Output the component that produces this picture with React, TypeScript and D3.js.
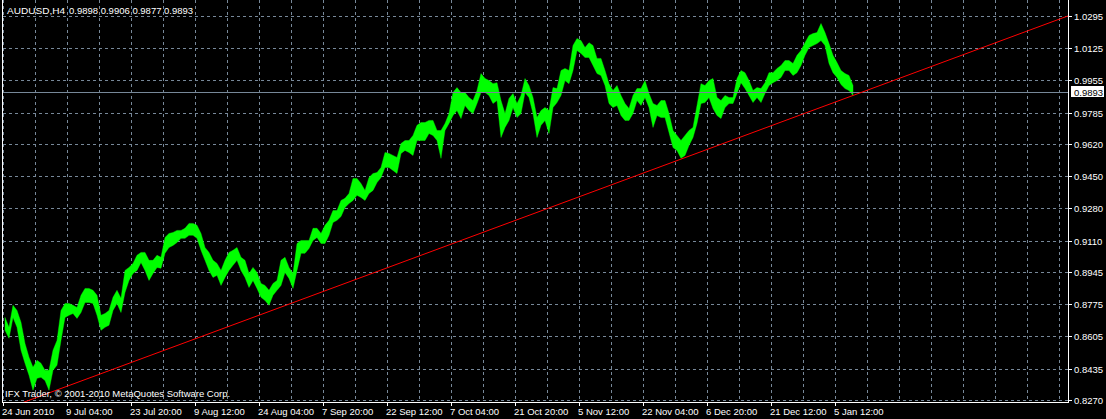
import React from 'react';
import * as d3 from 'd3';

const SYMBOL = 'AUDUSD,H4';
const LAST_OHLC = ['0.9898', '0.9906', '0.9877', '0.9893'];
const BID = 0.9893;
const COPYRIGHT = 'IFX Trader, © 2001-2010 MetaQuotes Software Corp.';

const PRICE_TICKS = [1.0295, 1.0125, 0.9955, 0.9785, 0.962, 0.945, 0.928, 0.911, 0.8945, 0.8775, 0.8605, 0.8435, 0.827];
const TIME_LABELS = ['24 Jun 2010', '9 Jul 04:00', '23 Jul 20:00', '9 Aug 12:00', '24 Aug 04:00', '7 Sep 20:00', '22 Sep 12:00', '7 Oct 04:00', '21 Oct 20:00', '5 Nov 12:00', '22 Nov 04:00', '6 Dec 20:00', '21 Dec 12:00', '5 Jan 12:00'];
const TIME_LABEL_BARS = [0, 64, 128, 192, 256, 320, 384, 448, 512, 576, 640, 704, 768, 832];
const GRID_BARS = d3.range(0, 1057, 32);
const VISIBLE_BARS = 1065;
const BARS_PER_SAMPLE = 4;

// high / low of each group of four H4 bars
const HIGHS = [
  0.8708, 0.8656, 0.8772, 0.8745, 0.8682, 0.8571, 0.8498, 0.8445, 0.8482, 0.8466,
  0.8429, 0.8429, 0.8535, 0.8587, 0.8745, 0.8782, 0.8782, 0.8772, 0.8761, 0.8825,
  0.8861, 0.8861, 0.8851, 0.8825, 0.8719, 0.8729, 0.8745, 0.8814, 0.8851, 0.8809,
  0.8956, 0.8972, 0.8993, 0.9036, 0.9051, 0.9051, 0.9009, 0.9009, 0.9036, 0.9025,
  0.913, 0.9151, 0.9156, 0.9167, 0.9167, 0.9178, 0.9204, 0.9204, 0.9194, 0.9151,
  0.9077, 0.9051, 0.9009, 0.8993, 0.8956, 0.9009, 0.9051, 0.9062, 0.9077, 0.9025,
  0.9009, 0.894, 0.8972, 0.8945, 0.8887, 0.8877, 0.8851, 0.8887, 0.8903, 0.9009,
  0.9025, 0.8972, 0.894, 0.9098, 0.9114, 0.9114, 0.9114, 0.9178, 0.9178, 0.9151,
  0.9194, 0.922, 0.9272, 0.9272, 0.9325, 0.9336, 0.9362, 0.9441, 0.9441, 0.9414,
  0.9378, 0.9446, 0.9467, 0.9472, 0.9499, 0.9578, 0.9573, 0.9562, 0.9552, 0.9625,
  0.9641, 0.9641, 0.9668, 0.9721, 0.9736, 0.9736, 0.9747, 0.9747, 0.9694, 0.9694,
  0.9731, 0.9783, 0.9894, 0.992, 0.9894, 0.9894, 0.9868, 0.9852, 0.9905, 0.9994,
  0.9968, 0.9957, 0.9941, 0.9946, 0.9852, 0.9783, 0.9863, 0.9889, 0.9836, 0.9879,
  0.9968, 0.9931, 0.9868, 0.9762, 0.9799, 0.9815, 0.9799, 0.992, 0.9915, 1.001,
  1.0021, 1.001, 1.0142, 1.0179, 1.0168, 1.0131, 1.0157, 1.0142, 1.0074, 1.0074,
  1.001, 0.9941, 0.9905, 0.9931, 0.9879, 0.9836, 0.981, 0.9879, 0.9915, 0.9915,
  0.9957, 0.9889, 0.9836, 0.9826, 0.9852, 0.9852, 0.9783, 0.9694, 0.9668, 0.9641,
  0.9668, 0.9694, 0.971, 0.9826, 0.9941, 0.9931, 0.9957, 0.9968, 0.9868, 0.9852,
  0.9879, 0.9868, 0.9868, 0.9968, 1.001, 0.9999, 0.9957, 0.9905, 0.992, 0.9915,
  0.9946, 0.9999, 0.9999, 1.0021, 1.0037, 1.0063, 1.0063, 1.0047, 1.009, 1.0116,
  1.0157, 1.0195, 1.0205, 1.021, 1.0258, 1.021, 1.0152, 1.009, 1.0052, 1.001,
  0.9994, 0.9984, 0.9931,
];
const LOWS = [
  0.864, 0.8598, 0.8708, 0.8656, 0.8535, 0.8466, 0.8403, 0.8324, 0.8387, 0.8392,
  0.8376, 0.8324, 0.8429, 0.8456, 0.8587, 0.8708, 0.8719, 0.8729, 0.8703, 0.8734,
  0.8787, 0.8787, 0.8782, 0.8719, 0.864, 0.8656, 0.8667, 0.8745, 0.8782, 0.8734,
  0.884, 0.8903, 0.894, 0.8956, 0.8998, 0.8956, 0.8903, 0.894, 0.8972, 0.8967,
  0.9046, 0.9077, 0.9088, 0.9103, 0.9125, 0.9125, 0.9141, 0.9141, 0.9125, 0.9062,
  0.9009, 0.8956, 0.8919, 0.893, 0.8877, 0.8919, 0.8956, 0.8983, 0.9009, 0.8956,
  0.8919, 0.8866, 0.8903, 0.8861, 0.8814, 0.8798, 0.8772, 0.8825, 0.8851, 0.8877,
  0.8945, 0.8914, 0.8861, 0.8956, 0.9046, 0.9046, 0.9072, 0.9114, 0.913, 0.9098,
  0.9098, 0.9141, 0.9209, 0.922, 0.924, 0.9288, 0.9309, 0.9325, 0.9352, 0.9341,
  0.9325, 0.9362, 0.9378, 0.9419, 0.9446, 0.9499, 0.9499, 0.9483, 0.9467, 0.9573,
  0.9589, 0.9578, 0.9562, 0.9641, 0.9641, 0.9641, 0.9678, 0.9668, 0.9641, 0.9547,
  0.9694, 0.9731, 0.9773, 0.9799, 0.9757, 0.9826, 0.9799, 0.9783, 0.9836, 0.9894,
  0.9894, 0.9879, 0.9836, 0.9852, 0.9657, 0.971, 0.9747, 0.9815, 0.9762, 0.9783,
  0.9894, 0.9868, 0.9783, 0.9657, 0.9721, 0.9747, 0.9678, 0.9815, 0.9841, 0.9879,
  0.9957, 0.9941, 1.001, 1.0116, 1.01, 1.0079, 1.0079, 1.0037, 0.9994, 0.9984,
  0.9931, 0.9836, 0.9815, 0.9826, 0.9773, 0.9747, 0.9747, 0.9783, 0.9852, 0.9826,
  0.9868, 0.9815, 0.971, 0.9773, 0.9762, 0.9762, 0.9683, 0.9604, 0.9589, 0.9547,
  0.9562, 0.9615, 0.9657, 0.9731, 0.9836, 0.9841, 0.9868, 0.981, 0.9773, 0.9757,
  0.9815, 0.9836, 0.9836, 0.9889, 0.9946, 0.9915, 0.9879, 0.9841, 0.9868, 0.9841,
  0.9889, 0.9931, 0.9946, 0.9957, 0.9973, 1.001, 1.001, 0.9984, 0.9999, 1.0037,
  1.009, 1.0131, 1.0142, 1.0152, 1.0168, 1.0142, 1.0047, 0.9999, 0.9973, 0.9936,
  0.9915, 0.9905, 0.9879,
];

// trend line anchors (bar index, price)
const TREND_BARS = [46, 677];
const TREND_PRICES = [0.8311, 0.9542];

const W = 1106;
const H = 419;
const PLOT_LEFT = 2;
const PLOT_RIGHT = 1068;
const PLOT_BOTTOM = 402;
const FONT = '"Liberation Sans", Arial, sans-serif';
const GRID = '#778899';

export default function App() {
  const x = d3.scaleLinear().domain([0, VISIBLE_BARS]).range([3.5, PLOT_RIGHT + 0.5]);
  const y = d3.scaleLinear().domain([0.827, 1.0295]).range([400.5, 16.5]);
  const snap = (v: number) => Math.floor(v) + 0.5;

  const samples = HIGHS.map((h, i) => ({ bar: i * BARS_PER_SAMPLE + 1.5, high: h, low: LOWS[i] }));
  const area = d3
    .area<{ bar: number; high: number; low: number }>()
    .x((d) => x(d.bar))
    .y0((d) => y(d.low))
    .y1((d) => y(d.high));

  const trend = d3.scaleLinear().domain(TREND_BARS).range(TREND_PRICES);
  const trendPts: [number, number][] = [-40, VISIBLE_BARS + 20].map((b) => [x(b), y(trend(b))]);
  const trendPath = d3.line()(trendPts) || '';

  const bidY = snap(y(BID));

  return (
    <svg
      width={W}
      height={H}
      style={{ position: 'absolute', left: 0, top: 0, display: 'block', background: '#000' }}
      fontFamily={FONT}
      fontSize={9.5}
    >
      <defs>
        <clipPath id="plot">
          <rect x={PLOT_LEFT + 1} y={0} width={PLOT_RIGHT - PLOT_LEFT - 1} height={PLOT_BOTTOM} />
        </clipPath>
      </defs>
      <rect x={0} y={0} width={W} height={H} fill="#000" />

      <g shapeRendering="crispEdges" stroke={GRID} strokeWidth={1} strokeDasharray="3,3">
        {GRID_BARS.map((b) => (
          <line key={'v' + b} x1={x(b)} x2={x(b)} y1={0} y2={PLOT_BOTTOM} />
        ))}
        {PRICE_TICKS.map((t) => (
          <line key={'h' + t} x1={PLOT_LEFT + 1} x2={PLOT_RIGHT} y1={snap(y(t))} y2={snap(y(t))} />
        ))}
      </g>

      <g clipPath="url(#plot)">
        <path d={area(samples) || ''} fill="#00ff00" stroke="#00ff00" strokeWidth={0.4} />
        <line x1={PLOT_LEFT} x2={PLOT_RIGHT} y1={bidY} y2={bidY} stroke={GRID} strokeWidth={1} shapeRendering="crispEdges" />
        <path d={trendPath} stroke="#ff0000" strokeWidth={1} fill="none" />
      </g>

      <g stroke="#ffffff" strokeWidth={1} shapeRendering="crispEdges">
        <line x1={PLOT_LEFT + 0.5} x2={PLOT_LEFT + 0.5} y1={0} y2={PLOT_BOTTOM + 1} />
        <line x1={PLOT_RIGHT + 0.5} x2={PLOT_RIGHT + 0.5} y1={0} y2={PLOT_BOTTOM + 1} />
        <line x1={PLOT_LEFT} x2={PLOT_RIGHT + 1} y1={PLOT_BOTTOM + 0.5} y2={PLOT_BOTTOM + 0.5} />
        {PRICE_TICKS.map((t) => (
          <line key={'rt' + t} x1={PLOT_RIGHT + 1} x2={PLOT_RIGHT + 4} y1={snap(y(t))} y2={snap(y(t))} />
        ))}
        {TIME_LABEL_BARS.map((b) => (
          <line key={'bt' + b} x1={x(b)} x2={x(b)} y1={PLOT_BOTTOM + 1} y2={PLOT_BOTTOM + 4} />
        ))}
      </g>

      <g fill="#ffffff">
        <text x={7} y={13.5} textLength={58} lengthAdjust="spacingAndGlyphs">{SYMBOL}</text>
        <text x={69} y={13.5}>{LAST_OHLC.join(' ')}</text>
        <text x={5} y={397}>{COPYRIGHT}</text>
        {PRICE_TICKS.map((t) => (
          <text key={'pl' + t} x={PLOT_RIGHT + 6} y={snap(y(t)) + 3}>
            {t.toFixed(4)}
          </text>
        ))}
        {TIME_LABELS.map((l, i) => (
          <text key={'tl' + i} x={x(TIME_LABEL_BARS[i]) - 1.5} y={415}>
            {l}
          </text>
        ))}
      </g>

      <rect x={PLOT_RIGHT + 3} y={bidY - 6.5} width={33} height={11} fill="#ffffff" />
      <text x={PLOT_RIGHT + 6} y={bidY + 3} fill="#000000">
        {BID.toFixed(4)}
      </text>
    </svg>
  );
}
